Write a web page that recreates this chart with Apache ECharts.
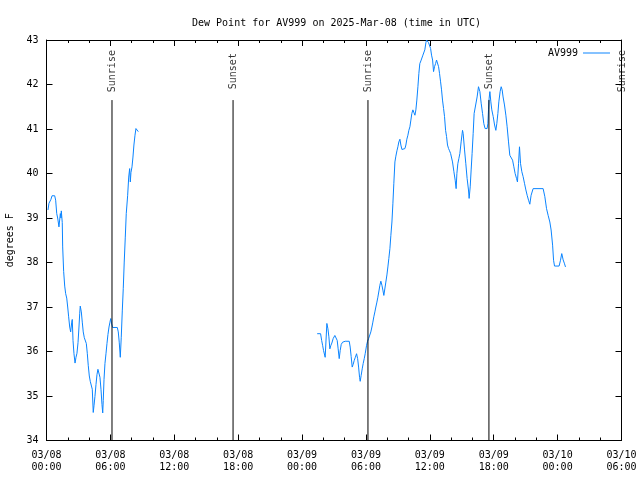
<!DOCTYPE html>
<html>
<head>
<meta charset="utf-8">
<script src="https://cdn.jsdelivr.net/npm/echarts@6/dist/echarts.min.js"></script>
<style>html,body{margin:0;padding:0;background:#fff}#c{width:640px;height:480px}</style>
</head>
<body>
<div id="c"></div>
<script>
// hours since 2025-03-08 00:00 UTC; null = data gap
const times = [0.14,0.23,0.42,0.52,0.77,0.86,0.96,1.05,1.17,1.30,1.36,1.39,1.48,1.52,1.61,1.71,1.80,1.90,1.99,2.08,2.18,2.27,2.37,2.42,2.49,2.58,2.68,2.77,2.86,2.96,3.05,3.12,3.17,3.27,3.36,3.45,3.55,3.64,3.74,3.83,3.92,4.02,4.11,4.21,4.30,4.39,4.46,4.55,4.65,4.74,4.83,4.93,5.02,5.12,5.21,5.28,5.33,5.40,5.49,5.59,5.68,5.77,5.87,5.96,6.03,6.12,6.21,6.65,6.74,6.83,6.93,7.02,7.12,7.21,7.30,7.40,7.49,7.62,7.72,7.81,7.87,7.93,8.03,8.12,8.21,8.31,8.40,8.50,8.62,
  17.0,
  25.42,25.74,25.84,25.93,26.02,26.17,26.27,26.33,26.43,26.52,26.61,26.71,26.80,26.92,27.08,27.21,27.30,27.39,27.49,27.58,27.68,27.81,28.05,28.43,28.52,28.61,28.71,28.80,28.90,28.99,29.12,29.22,29.31,29.40,29.46,29.55,29.65,29.74,29.84,29.93,30.06,30.15,30.25,30.37,30.46,30.56,30.65,30.74,30.84,30.93,31.03,31.12,31.22,31.31,31.40,31.50,31.59,31.68,31.78,31.87,31.97,32.06,32.15,32.25,32.34,32.44,32.53,32.62,32.72,32.81,32.91,33.00,33.09,33.19,33.28,33.38,33.50,33.66,33.75,33.84,33.94,34.03,34.13,34.22,34.31,34.41,34.50,34.60,34.69,34.78,34.88,34.97,35.06,35.16,35.25,35.35,35.44,35.53,35.63,35.69,35.79,35.88,35.98,36.07,36.16,36.26,36.35,36.44,36.54,36.63,36.73,36.82,36.91,37.01,37.10,37.19,37.29,37.38,37.48,37.57,37.66,37.76,37.85,37.95,38.04,38.13,38.26,38.38,38.47,38.54,38.63,38.73,38.82,38.94,39.07,39.13,39.26,39.38,39.50,39.63,39.69,39.79,39.88,39.97,40.07,40.16,40.32,40.44,40.57,40.70,40.82,40.95,41.07,41.19,41.38,41.45,41.51,41.57,41.64,41.73,41.82,41.95,42.08,42.20,42.29,42.39,42.48,42.60,42.70,42.79,42.88,43.01,43.14,43.26,43.39,43.51,43.63,43.77,43.89,44.01,44.14,44.23,44.33,44.42,44.52,44.64,44.76,44.89,45.02,45.14,45.27,45.39,45.51,45.70,46.64,46.80,46.96,47.11,47.27,47.39,47.53,47.62,47.71,48.14,48.27,48.39,48.52,48.65,48.74];
const dewPoint = [39.18,39.33,39.42,39.5,39.5,39.4,39.1,39.0,38.8,39.1,39.0,39.16,38.9,38.35,37.8,37.47,37.3,37.2,37.0,36.78,36.55,36.44,36.66,36.72,36.25,35.95,35.74,35.87,35.96,36.2,36.55,36.86,37.02,36.89,36.66,36.44,36.31,36.31,36.18,35.96,35.69,35.45,35.33,35.33,35.15,34.63,34.78,34.99,35.26,35.48,35.6,35.6,35.42,35.14,34.81,34.62,34.9,35.37,35.73,35.96,36.18,36.38,36.55,36.66,36.74,36.62,36.54,36.54,36.44,36.21,35.87,36.32,36.93,37.42,38.01,38.57,39.1,39.5,39.92,40.11,39.81,40.02,40.15,40.37,40.64,40.86,41.01,40.99,40.94,
  null,
  36.4,36.4,36.25,36.14,36.02,35.87,35.85,36.63,36.51,36.33,36.06,36.14,36.19,36.29,36.36,36.4,36.25,36.06,35.84,36.02,36.16,36.21,36.23,36.23,36.1,35.89,35.65,35.71,35.8,35.86,35.95,35.84,35.65,35.42,35.33,35.46,35.61,35.73,35.84,35.95,36.14,36.23,36.29,36.33,36.44,36.55,36.66,36.78,36.89,37.0,37.11,37.22,37.36,37.49,37.58,37.49,37.38,37.26,37.3,37.56,37.72,37.9,38.09,38.31,38.61,38.91,39.32,39.78,40.26,40.39,40.51,40.6,40.71,40.77,40.64,40.54,40.54,40.56,40.64,40.77,40.86,40.97,41.05,41.2,41.35,41.43,41.37,41.31,41.43,41.65,41.95,42.25,42.47,42.53,42.55,42.66,42.69,42.78,42.94,43.0,43.0,42.94,42.91,42.81,42.66,42.55,42.29,42.4,42.47,42.55,42.51,42.4,42.25,42.06,41.88,41.65,41.46,41.28,40.97,40.83,40.64,40.56,40.51,40.45,40.41,40.26,40.04,39.85,39.66,40.0,40.22,40.34,40.45,40.71,40.97,40.9,40.53,40.22,39.89,39.63,39.44,39.7,40.08,40.45,40.9,41.35,41.39,41.72,41.95,41.84,41.58,41.35,41.12,41.01,41.01,41.12,41.43,41.69,41.84,41.61,41.43,41.28,41.09,40.97,41.12,41.35,41.61,41.84,41.95,41.88,41.72,41.54,41.31,41.05,40.71,40.41,40.38,40.3,40.15,40.0,39.89,39.81,40.22,40.6,40.22,40.04,39.93,39.78,39.63,39.51,39.4,39.31,39.51,39.66,39.66,39.48,39.21,39.06,38.91,38.73,38.39,38.05,37.92,37.92,38.05,38.2,38.06,37.97,37.9];
const sunTimes = [6.15, 17.52, 30.19, 41.55, 54.13];
const sunLabels = ['Sunrise', 'Sunset', 'Sunrise', 'Sunset', 'Sunrise'];
const sunLineTop = 41.65;
const sunLabelY = 42.3;
const xTickLabels = ['03/08\n00:00','03/08\n06:00','03/08\n12:00','03/08\n18:00','03/09\n00:00','03/09\n06:00','03/09\n12:00','03/09\n18:00','03/10\n00:00','03/10\n06:00'];
const seriesName = 'AV999';

const FONT = 'DejaVu Sans Mono';
const LINE_COLOR = '#0a84ff';
const dewData = times.map((t, i) => [t, dewPoint[i]]);
const sunLineData = [];
sunTimes.forEach(t => { sunLineData.push([t, 34], [t, sunLineTop], [t, null]); });
const sunLabelData = sunTimes.map((t, i) => ({ value: [t, sunLabelY], name: sunLabels[i] }));

const txt = { color: '#000', fontFamily: FONT, fontSize: 10 };
const xBase = {
  type: 'value', min: 0, max: 54, interval: 6,
  axisLine: { show: true, onZero: false, lineStyle: { color: '#000', width: 1 } },
  axisTick: { show: true, inside: true, length: 6, lineStyle: { color: '#000' } },
  minorTick: { show: true, splitNumber: 3, length: 3, lineStyle: { color: '#000' } },
  splitLine: { show: false }
};
const yBase = {
  type: 'value', min: 34, max: 43, interval: 1,
  axisLine: { show: true, onZero: false, lineStyle: { color: '#000', width: 1 } },
  axisTick: { show: true, inside: true, length: 6, lineStyle: { color: '#000' } },
  splitLine: { show: false }
};

const chart = echarts.init(document.getElementById('c'), null, { renderer: 'canvas' });
chart.setOption({
  animation: false,
  backgroundColor: '#fff',
  title: {
    text: 'Dew Point for AV999 on 2025-Mar-08 (time in UTC)',
    left: 187, top: 13,
    textStyle: Object.assign({ fontWeight: 'normal' }, txt)
  },
  legend: {
    data: [{ name: seriesName, icon: 'rect' }], right: 25, top: 43, align: 'right',
    itemWidth: 27, itemHeight: 1, itemGap: 8,
    itemStyle: { color: LINE_COLOR }, textStyle: txt
  },
  grid: { left: 46.5, right: 18.5, top: 40, bottom: 39.5, containLabel: false, outerBoundsMode: 'none' },
  xAxis: [
    Object.assign({}, xBase, {
      position: 'bottom',
      axisLabel: Object.assign({ margin: 9, lineHeight: 12,
        formatter: v => xTickLabels[Math.round(v / 6)] }, txt)
    }),
    Object.assign({}, xBase, { position: 'top', axisLabel: { show: false } })
  ],
  yAxis: [
    Object.assign({}, yBase, {
      position: 'left',
      name: 'degrees F', nameLocation: 'middle', nameRotate: 90, nameGap: 31,
      nameTextStyle: txt,
      axisLabel: Object.assign({ margin: 8 }, txt)
    }),
    Object.assign({}, yBase, { position: 'right', axisLabel: { show: false } })
  ],
  series: [
    {
      name: seriesName, type: 'line', data: dewData, showSymbol: false, symbol: 'none',
      connectNulls: false, lineStyle: { color: LINE_COLOR, width: 1 }, itemStyle: { color: LINE_COLOR }
    },
    {
      name: 'sun', type: 'line', data: sunLineData, symbol: 'none', clip: false, silent: true,
      connectNulls: false, lineStyle: { color: '#000', width: 1 }, z: 3
    },
    {
      name: 'sunLabel', type: 'scatter', data: sunLabelData, symbolSize: 1, clip: false, silent: true,
      itemStyle: { color: 'rgba(0,0,0,0)' },
      label: Object.assign({ show: true, position: 'inside', rotate: 90,
        formatter: p => p.name }, txt)
    }
  ]
});
</script>
</body>
</html>
